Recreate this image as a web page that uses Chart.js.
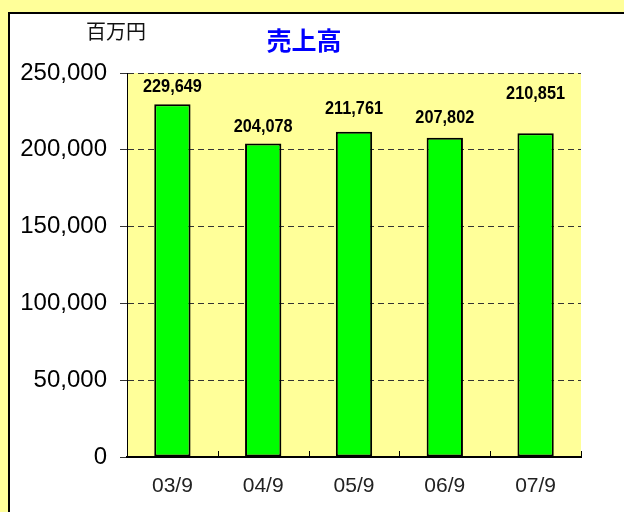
<!DOCTYPE html>
<html>
<head>
<meta charset="utf-8">
<script src="https://cdn.jsdelivr.net/npm/chart.js"></script>
<style>
  html, body { margin: 0; padding: 0; background: #ffff99; }
  #wrap { width: 624px; height: 512px; position: relative; }
</style>
</head>
<body>
<div id="wrap"><canvas id="uriageChart" width="624" height="512"></canvas></div>
<script>
// データ
const periods = ['03/9', '04/9', '05/9', '06/9', '07/9'];
const sales = [229649, 204078, 211761, 207802, 210851];
const yTicks = [0, 50000, 100000, 150000, 200000, 250000];
const chartTitle = '売上高';
const unitLabel = '百万円';

const YELLOW = '#ffff99';
const GREEN = '#00ff00';

// 数値ラベルの縦位置ずらし (px)
const labelLift = [17, 17, 23, 20, 39];

const fmt = v => v.toLocaleString('en-US');

// 外枠・タイトル・単位
const framePlugin = {
    id: 'frame',
    beforeDraw(chart) {
        const ctx = chart.ctx;
        const { left, right, top, bottom } = chart.chartArea;
        ctx.save();
        ctx.fillStyle = YELLOW;
        ctx.fillRect(0, 0, chart.width, chart.height);
        ctx.fillStyle = '#fff';
        ctx.fillRect(9, 13, chart.width - 9, chart.height - 13);
        ctx.strokeStyle = '#000';
        ctx.lineWidth = 2;
        ctx.beginPath();
        ctx.moveTo(9, chart.height);
        ctx.lineTo(9, 13);
        ctx.lineTo(chart.width, 13);
        ctx.stroke();
        // プロットエリア背景
        ctx.fillStyle = YELLOW;
        ctx.fillRect(left, top, right - left, bottom - top);
        ctx.restore();
    },
    afterDraw(chart) {
        const ctx = chart.ctx;
        ctx.save();
        ctx.textAlign = 'center';
        ctx.textBaseline = 'middle';
        ctx.fillStyle = '#0000ff';
        ctx.font = 'bold 25px "Noto Sans CJK JP"';
        ctx.fillText(chartTitle, 304, 40);
        ctx.fillStyle = '#111';
        ctx.font = '20px "Noto Sans CJK JP"';
        ctx.fillText(unitLabel, 116, 31);

        // x軸の内向き目盛り
        const x = chart.scales.x;
        const base = chart.chartArea.bottom;
        ctx.strokeStyle = '#000';
        ctx.lineWidth = 1;
        ctx.beginPath();
        for (let i = 0; i <= periods.length; i++) {
            const px = Math.round(x.getPixelForValue(i - 0.5)) + 0.5;
            ctx.moveTo(px, base);
            ctx.lineTo(px, base - 6);
        }
        ctx.stroke();

        // 数値ラベル
        const meta = chart.getDatasetMeta(0);
        ctx.fillStyle = '#000';
        ctx.font = 'bold 17px "Liberation Sans"';
        meta.data.forEach((bar, i) => {
            ctx.save();
            ctx.translate(bar.x, bar.y - labelLift[i]);
            ctx.scale(0.96, 1.1);
            ctx.fillText(fmt(sales[i]), 0, 0);
            ctx.restore();
        });
        ctx.restore();
    }
};

new Chart(document.getElementById('uriageChart'), {
    type: 'bar',
    data: {
        labels: periods,
        datasets: [{
            data: sales,
            backgroundColor: GREEN,
            borderColor: '#000',
            borderWidth: 2,
            borderSkipped: false,
            barPercentage: 0.4,
            categoryPercentage: 1.0
        }]
    },
    options: {
        responsive: false,
        animation: false,
        layout: { padding: { left: 0, top: 73, right: 43, bottom: 0 } },
        plugins: {
            legend: { display: false },
            tooltip: { enabled: false }
        },
        scales: {
            x: {
                grid: { display: false, drawTicks: false },
                border: { display: true, color: '#000', width: 2 },
                ticks: {
                    color: '#222',
                    font: { family: 'Liberation Sans', size: 21 },
                    padding: 17
                },
                afterFit(scale) { scale.height = 55; }
            },
            y: {
                min: 0,
                max: 250000,
                afterBuildTicks(scale) {
                    scale.ticks = yTicks.map(v => ({ value: v }));
                },
                grid: {
                    color: '#333',
                    lineWidth: 1,
                    tickLength: 7
                },
                border: { display: true, color: '#000', width: 1, dash: [6, 4] },
                ticks: {
                    color: '#000',
                    font: { family: 'Liberation Sans', size: 24 },
                    padding: 13,
                    callback: v => fmt(v)
                },
                afterFit(scale) { scale.width = 127; }
            }
        }
    },
    plugins: [framePlugin]
});
</script>
</body>
</html>
